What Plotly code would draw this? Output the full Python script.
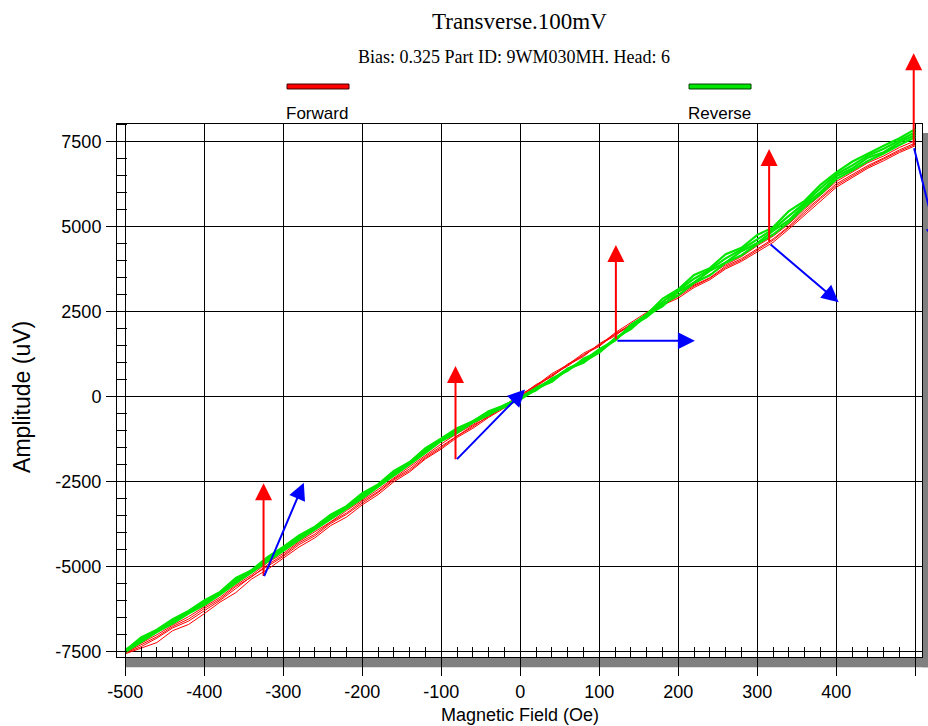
import plotly.graph_objects as go

# ---------------- data ----------------
field = [-500, -480, -460, -440, -420, -400, -380, -360, -340, -320, -300,
         -280, -260, -240, -220, -200, -180, -160, -140, -120, -100,
         -80, -60, -40, -20, 0, 20, 40, 60, 80, 100,
         120, 140, 160, 180, 200, 220, 240, 260, 280, 300,
         320, 340, 360, 380, 400, 420, 440, 460, 480, 500]

forward_1 = [-7560, -7400, -7230, -6880, -6700, -6380, -6040, -5760, -5360, -5080, -4760,
             -4420, -4150, -3790, -3540, -3180, -2880, -2500, -2210, -1830, -1540,
             -1200, -930, -610, -330, -20, 300, 610, 960, 1210, 1530,
             1790, 2140, 2380, 2690, 2900, 3210, 3440, 3760, 3980, 4260,
             4540, 4930, 5340, 5760, 6160, 6440, 6720, 6940, 7180, 7380]
forward_2 = [-7530, -7300, -7060, -6760, -6540, -6230, -5950, -5580, -5300, -4940, -4660,
             -4300, -4040, -3690, -3420, -3080, -2790, -2420, -2120, -1760, -1460,
             -1140, -850, -590, -280, 20, 360, 590, 930, 1180, 1560,
             1830, 2090, 2450, 2730, 2990, 3280, 3500, 3840, 4060, 4350,
             4640, 5010, 5460, 5860, 6260, 6530, 6800, 7020, 7260, 7460]
forward_3 = [-7500, -7250, -7000, -6720, -6470, -6180, -5900, -5540, -5240, -4880, -4610,
             -4260, -3960, -3680, -3350, -3040, -2730, -2390, -2050, -1710, -1390,
             -1080, -820, -520, -250, 60, 330, 680, 940, 1280, 1510,
             1880, 2170, 2480, 2780, 3080, 3310, 3600, 3880, 4120, 4440,
             4720, 5080, 5520, 5920, 6330, 6600, 6880, 7080, 7330, 7530]
forward_4 = [-7540, -7350, -7100, -6800, -6600, -6290, -5990, -5640, -5280, -4990, -4700,
             -4350, -4090, -3730, -3460, -3130, -2820, -2450, -2170, -1800, -1500,
             -1160, -890, -560, -300, 0, 310, 640, 900, 1240, 1480,
             1850, 2120, 2420, 2700, 2950, 3250, 3480, 3800, 4020, 4310,
             4600, 4980, 5400, 5820, 6210, 6490, 6760, 6990, 7220, 7420]

reverse_1 = [-7470, -7080, -6850, -6540, -6300, -5990, -5740, -5330, -5100, -4720, -4420,
             -4080, -3820, -3470, -3220, -2840, -2580, -2180, -1920, -1510, -1230,
             -930, -720, -430, -250, -60, 250, 440, 820, 1000, 1360,
             1660, 2110, 2420, 2880, 3160, 3580, 3780, 4190, 4380, 4760,
             4980, 5460, 5760, 6230, 6600, 6910, 7150, 7380, 7600, 7870]
reverse_2 = [-7440, -7180, -6880, -6640, -6340, -6100, -5760, -5450, -5100, -4810, -4460,
             -4180, -3850, -3570, -3240, -2960, -2600, -2290, -1930, -1620, -1250,
             -1030, -720, -510, -300, -20, 190, 540, 760, 1120, 1320,
             1720, 1990, 2400, 2660, 3090, 3360, 3700, 3950, 4280, 4520,
             4880, 5190, 5650, 6020, 6480, 6710, 7030, 7190, 7480, 7700]
reverse_3 = [-7510, -7210, -6920, -6670, -6380, -6130, -5820, -5480, -5170, -4840, -4530,
             -4210, -3900, -3600, -3280, -2990, -2650, -2330, -1990, -1650, -1300,
             -1060, -760, -540, -240, -30, 260, 500, 820, 1050, 1400,
             1660, 2060, 2340, 2720, 2980, 3350, 3570, 3940, 4160, 4490,
             4770, 5130, 5580, 5960, 6400, 6650, 6930, 7150, 7400, 7640]
reverse_4 = [-7480, -7130, -6900, -6580, -6330, -6040, -5780, -5390, -5130, -4760, -4480,
             -4130, -3860, -3520, -3250, -2900, -2610, -2240, -1960, -1570, -1280,
             -980, -740, -470, -270, -80, 220, 470, 790, 1030, 1300,
             1690, 2040, 2430, 2790, 3120, 3470, 3740, 4070, 4330, 4640,
             4930, 5320, 5700, 6130, 6540, 6800, 7090, 7290, 7540, 7780]

# arrows: base point on the curve, red arrow tip (vertical), blue arrow tip
arrow_base_x = [-325, -82, 121, 315, 498]
arrow_base_y = [-5320, -1880, 1647, 4511, 7353]
red_tip_y = [-2547, 903, 4460, 7285, 10100]
blue_tip_x = [-274, 6, 221, 403, 529]
blue_tip_y = [-2529, 210, 1647, 2776, 4490]

x_ticks = [-500, -400, -300, -200, -100, 0, 100, 200, 300, 400, 500]
y_ticks = [-7500, -5000, -2500, 0, 2500, 5000, 7500]

title_text = "Transverse.100mV"
subtitle_text = "Bias: 0.325 Part ID: 9WM030MH. Head: 6"
series_names = ["Forward", "Reverse"]
series_colors = ["#ff0000", "#00e600"]

# ---------------- figure ----------------
SANS = "Liberation Sans, Arial, sans-serif"
SERIF = "Liberation Serif, Times New Roman, serif"

fig = go.Figure()
for ys in [forward_1, forward_2, forward_3, forward_4]:
    fig.add_trace(go.Scatter(x=field, y=ys, mode="lines", name=series_names[0],
                             line=dict(color=series_colors[0], width=1),
                             showlegend=False))
for ys in [reverse_1, reverse_2, reverse_3, reverse_4]:
    fig.add_trace(go.Scatter(x=field, y=ys, mode="lines", name=series_names[1],
                             line=dict(color=series_colors[1], width=2.2),
                             showlegend=False))

annotations = []
for bx, by, ty in zip(arrow_base_x, arrow_base_y, red_tip_y):
    annotations.append(dict(x=bx, y=ty, ax=bx, ay=by, xref="x", yref="y",
                            axref="x", ayref="y", showarrow=True, text="",
                            arrowhead=2, arrowsize=1.7, arrowwidth=2,
                            arrowcolor="#ff0000"))
for bx, by, tx, ty in zip(arrow_base_x, arrow_base_y, blue_tip_x, blue_tip_y):
    annotations.append(dict(x=tx, y=ty, ax=bx, ay=by, xref="x", yref="y",
                            axref="x", ayref="y", showarrow=True, text="",
                            arrowhead=2, arrowsize=1.7, arrowwidth=2,
                            arrowcolor="#0000ff"))

# titles
annotations.append(dict(text=title_text, x=0.5006, y=1.193, xref="paper", yref="paper",
                        showarrow=False, xanchor="center", yanchor="middle",
                        font=dict(family=SERIF, size=23, color="black")))
annotations.append(dict(text=subtitle_text, x=0.4935, y=1.1257, xref="paper", yref="paper",
                        showarrow=False, xanchor="center", yanchor="middle",
                        font=dict(family=SERIF, size=18, color="black")))
# legend texts
legend_x = [0.2112, 0.7106]
for name, lx in zip(series_names, legend_x):
    annotations.append(dict(text=name, x=lx, y=1.0188, xref="paper", yref="paper",
                            showarrow=False, xanchor="left", yanchor="middle",
                            xshift=-3,
                            font=dict(family=SANS, size=17, color="black")))
# axis titles
annotations.append(dict(text="Magnetic Field (Oe)", x=0.5006, y=-0.1088, xref="paper",
                        yref="paper", showarrow=False, xanchor="center", yanchor="middle",
                        font=dict(family=SANS, size=18, color="black")))
annotations.append(dict(text="Amplitude (uV)", x=-0.118, y=0.488, xref="paper",
                        yref="paper", showarrow=False, xanchor="center", yanchor="middle",
                        textangle=-90,
                        font=dict(family=SANS, size=23, color="black")))

shapes = []
# legend bars
for col, lx in zip(series_colors, legend_x):
    shapes.append(dict(type="rect", xref="paper", yref="paper",
                       x0=lx, x1=lx + 0.0770, y0=1.0657, y1=1.0750,
                       fillcolor=col,
                       line=dict(color="#400000" if col == "#ff0000" else "#004000", width=1)))
# drop shadow
shapes.append(dict(type="rect", xref="paper", yref="paper", layer="below",
                   x0=1.0, x1=1.02, y0=-0.019, y1=1 - 0.0169,
                   fillcolor="#808080", line=dict(width=0)))
shapes.append(dict(type="rect", xref="paper", yref="paper", layer="below",
                   x0=0.0112, x1=1.02, y0=-0.019, y1=0.0,
                   fillcolor="#808080", line=dict(width=0)))

fig.update_layout(
    width=928, height=726,
    margin=dict(l=117, r=6, t=124, b=69),
    paper_bgcolor="white", plot_bgcolor="white",
    annotations=annotations, shapes=shapes,
    showlegend=False,
)
fig.update_xaxes(range=[-510.5, 508.5], tickvals=x_ticks,
                 ticktext=[str(v) for v in x_ticks],
                 showgrid=True, gridcolor="black", gridwidth=1,
                 zeroline=False, showline=True, linecolor="black", linewidth=1,
                 mirror=True, ticks="outside", ticklen=18, tickcolor="black",
                 tickwidth=1, ticklabelstandoff=0,
                 tickfont=dict(family=SANS, size=18, color="black"),
                 minor=dict(dtick=20, tick0=0, ticks="inside", ticklen=10,
                            tickcolor="black", tickwidth=1, showgrid=False))
fig.update_yaxes(range=[-7655, 8020], tickvals=y_ticks,
                 ticktext=[str(v) for v in y_ticks],
                 showgrid=True, gridcolor="black", gridwidth=1,
                 zeroline=False, showline=True, linecolor="black", linewidth=1,
                 mirror=True, ticks="outside", ticklen=10, tickcolor="black",
                 tickwidth=1, ticklabelstandoff=1,
                 tickfont=dict(family=SANS, size=18, color="black"),
                 minor=dict(dtick=500, tick0=0, ticks="inside", ticklen=10,
                            tickcolor="black", tickwidth=1, showgrid=False))

fig.write_html("out.html", config={"displayModeBar": False},
               post_script="document.body.style.margin='0px';document.body.style.padding='0px';")
